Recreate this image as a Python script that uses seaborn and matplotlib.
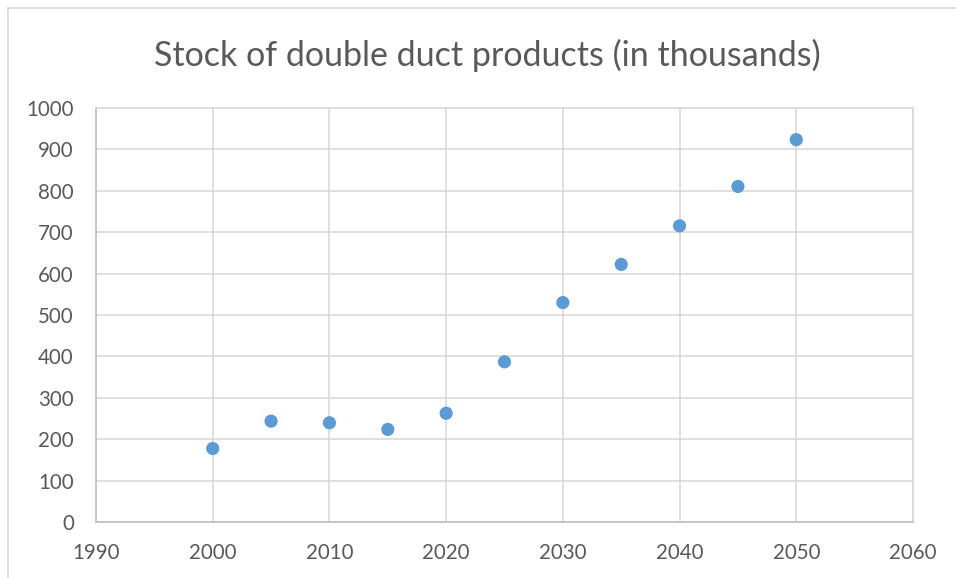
import matplotlib
matplotlib.use('Agg')
import matplotlib.pyplot as plt
import seaborn as sns
import pandas as pd
from matplotlib.lines import Line2D

# stock of double duct products (thousands)
years = [2000, 2005, 2010, 2015, 2020, 2025, 2030, 2035, 2040, 2045, 2050]
stock = [178, 244, 240, 224, 263, 387, 530, 622, 715, 810, 923]
x_ticks = [1990, 2000, 2010, 2020, 2030, 2040, 2050, 2060]
y_ticks = [0, 100, 200, 300, 400, 500, 600, 700, 800, 900, 1000]

data = pd.DataFrame({'year': years, 'stock': stock})

sns.set_style('white')
plt.rcParams['font.family'] = ['Lato', 'DejaVu Sans']

TEXT = '#595959'
GRID = '#d9d9d9'

fig = plt.figure(figsize=(9.56, 5.78), dpi=100)
ax = fig.add_axes([96/956, 1 - 522.3/578, (913 - 96)/956, (522.3 - 107.7)/578])

sns.scatterplot(data=data, x='year', y='stock', ax=ax, color='#5b9bd5',
                s=90, edgecolor='none', zorder=3)

ax.set_xlim(1990, 2060)
ax.set_ylim(0, 1000)
ax.set_xticks(x_ticks)
ax.set_yticks(y_ticks)
ax.grid(True, color=GRID, linewidth=1.2)
ax.set_axisbelow(True)
for side in ax.spines.values():
    side.set_color(GRID)
    side.set_linewidth(1.2)
ax.spines['left'].set_color('#bfbfbf')
ax.spines['bottom'].set_color('#bfbfbf')
ax.tick_params(axis='both', length=0, labelsize=14.8, colors=TEXT)
ax.tick_params(axis='x', pad=15)
ax.tick_params(axis='y', pad=16)
ax.set_xlabel('')
ax.set_ylabel('')

fig.text(487/956, 1 - 55/578, 'Stock of double duct products (in thousands)',
         ha='center', va='center', fontsize=24.5, color=TEXT)

# chart area border (top and left edges visible)
fig.add_artist(Line2D([8/956, 1], [1 - 8/578, 1 - 8/578], color=GRID, linewidth=1.2,
                      transform=fig.transFigure))
fig.add_artist(Line2D([8/956, 8/956], [0, 1 - 8/578], color=GRID, linewidth=1.2,
                      transform=fig.transFigure))

fig.savefig('out.png', dpi=100)
